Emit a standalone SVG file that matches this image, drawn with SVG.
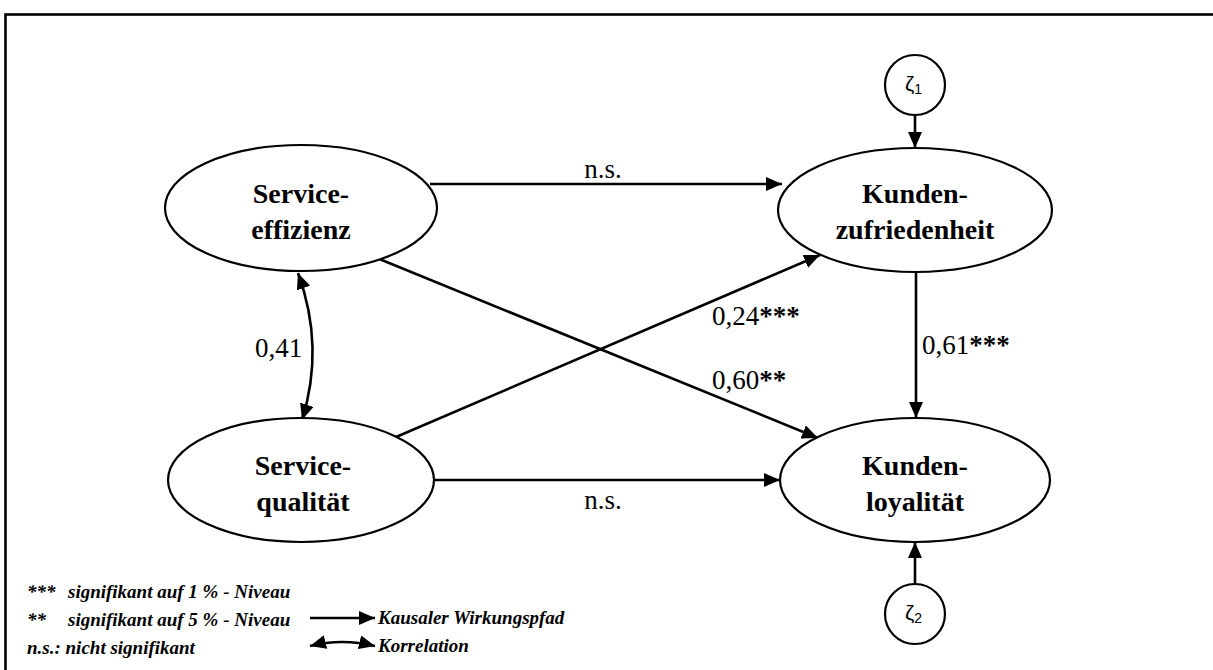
<svg xmlns="http://www.w3.org/2000/svg" width="1213" height="670" viewBox="0 0 1213 670">
<style>
.node{fill:#fff;stroke:#000;stroke-width:2.2}
.lbl{font-family:"Liberation Serif",serif;font-weight:bold;font-size:28px;text-anchor:middle;fill:#000}
.coef{font-family:"Liberation Serif",serif;font-size:27px;fill:#000}
.ast{font-weight:bold}
.zeta{font-family:"Liberation Sans",sans-serif;font-size:21px;fill:#000}
.leg{font-family:"Liberation Serif",serif;font-style:italic;font-weight:bold;font-size:19px;fill:#000}
.edge{fill:none;stroke:#000;stroke-width:2.6}
</style>
<defs>
<marker id="ah" markerUnits="userSpaceOnUse" markerWidth="16" markerHeight="14" refX="16" refY="7" orient="auto-start-reverse">
<path d="M0,0 L16,7 L0,14 z" fill="#000"/>
</marker>
</defs>
<rect x="5.5" y="14.5" width="1220" height="700" fill="#fff" stroke="#000" stroke-width="2.6"/>

<g id="connectors">
<line class="edge" x1="430" y1="184" x2="782" y2="184" marker-end="url(#ah)"/>
<line class="edge" x1="433" y1="480" x2="780" y2="480" marker-end="url(#ah)"/>
<line class="edge" x1="372" y1="256" x2="818" y2="438" marker-end="url(#ah)"/>
<line class="edge" x1="396" y1="437" x2="820" y2="255" marker-end="url(#ah)"/>
<line class="edge" x1="916" y1="272" x2="916" y2="418" marker-end="url(#ah)"/>
<line class="edge" x1="915" y1="115" x2="915" y2="148" marker-end="url(#ah)"/>
<line class="edge" x1="915" y1="584" x2="915" y2="542" marker-end="url(#ah)"/>
<path class="edge" d="M298,273 Q325,347 302,420" marker-start="url(#ah)" marker-end="url(#ah)"/>
<text class="coef" x="603" y="178" text-anchor="middle">n.s.</text>
<text class="coef" x="603" y="509" text-anchor="middle">n.s.</text>
<text class="coef" x="712" y="325">0,24<tspan class="ast">***</tspan></text>
<text class="coef" x="712" y="389">0,60<tspan class="ast">**</tspan></text>
<text class="coef" x="922" y="354">0,61<tspan class="ast">***</tspan></text>
<text class="coef" x="255" y="357">0,41</text>
</g>

<g id="service-effizienz">
<ellipse class="node" cx="301" cy="208" rx="136" ry="63"/>
<text class="lbl" x="301" y="203">Service-</text>
<text class="lbl" x="301" y="239">effizienz</text>
</g>
<g id="service-qualitaet">
<ellipse class="node" cx="301" cy="480" rx="133" ry="62"/>
<text class="lbl" x="303" y="475">Service-</text>
<text class="lbl" x="303" y="511">qualität</text>
</g>
<g id="kunden-zufriedenheit">
<ellipse class="node" cx="915" cy="210" rx="137" ry="62"/>
<text class="lbl" x="915" y="203">Kunden-</text>
<text class="lbl" x="915" y="239">zufriedenheit</text>
</g>
<g id="kunden-loyalitaet">
<ellipse class="node" cx="915" cy="480" rx="135" ry="62"/>
<text class="lbl" x="915" y="475">Kunden-</text>
<text class="lbl" x="915" y="511">loyalität</text>
</g>
<g id="zeta1">
<circle class="node" cx="915" cy="85" r="30" stroke-width="2"/>
<text class="zeta" x="905" y="91">ζ<tspan font-size="14" dy="3">1</tspan></text>
</g>
<g id="zeta2">
<circle class="node" cx="915" cy="614" r="30" stroke-width="2"/>
<text class="zeta" x="905" y="620">ζ<tspan font-size="14" dy="3">2</tspan></text>
</g>

<g id="legend">
<text class="leg" x="27" y="598">***<tspan x="68">signifikant auf 1 % - Niveau</tspan></text>
<text class="leg" x="27" y="626">**<tspan x="68">signifikant auf 5 % - Niveau</tspan></text>
<text class="leg" x="27" y="654">n.s.: nicht signifikant</text>
<line class="edge" x1="310" y1="618" x2="375" y2="618" marker-end="url(#ah)"/>
<path class="edge" d="M310,646 Q342,638 375,646" marker-start="url(#ah)" marker-end="url(#ah)"/>
<text class="leg" x="378" y="624">Kausaler Wirkungspfad</text>
<text class="leg" x="378" y="652">Korrelation</text>
</g>
</svg>
